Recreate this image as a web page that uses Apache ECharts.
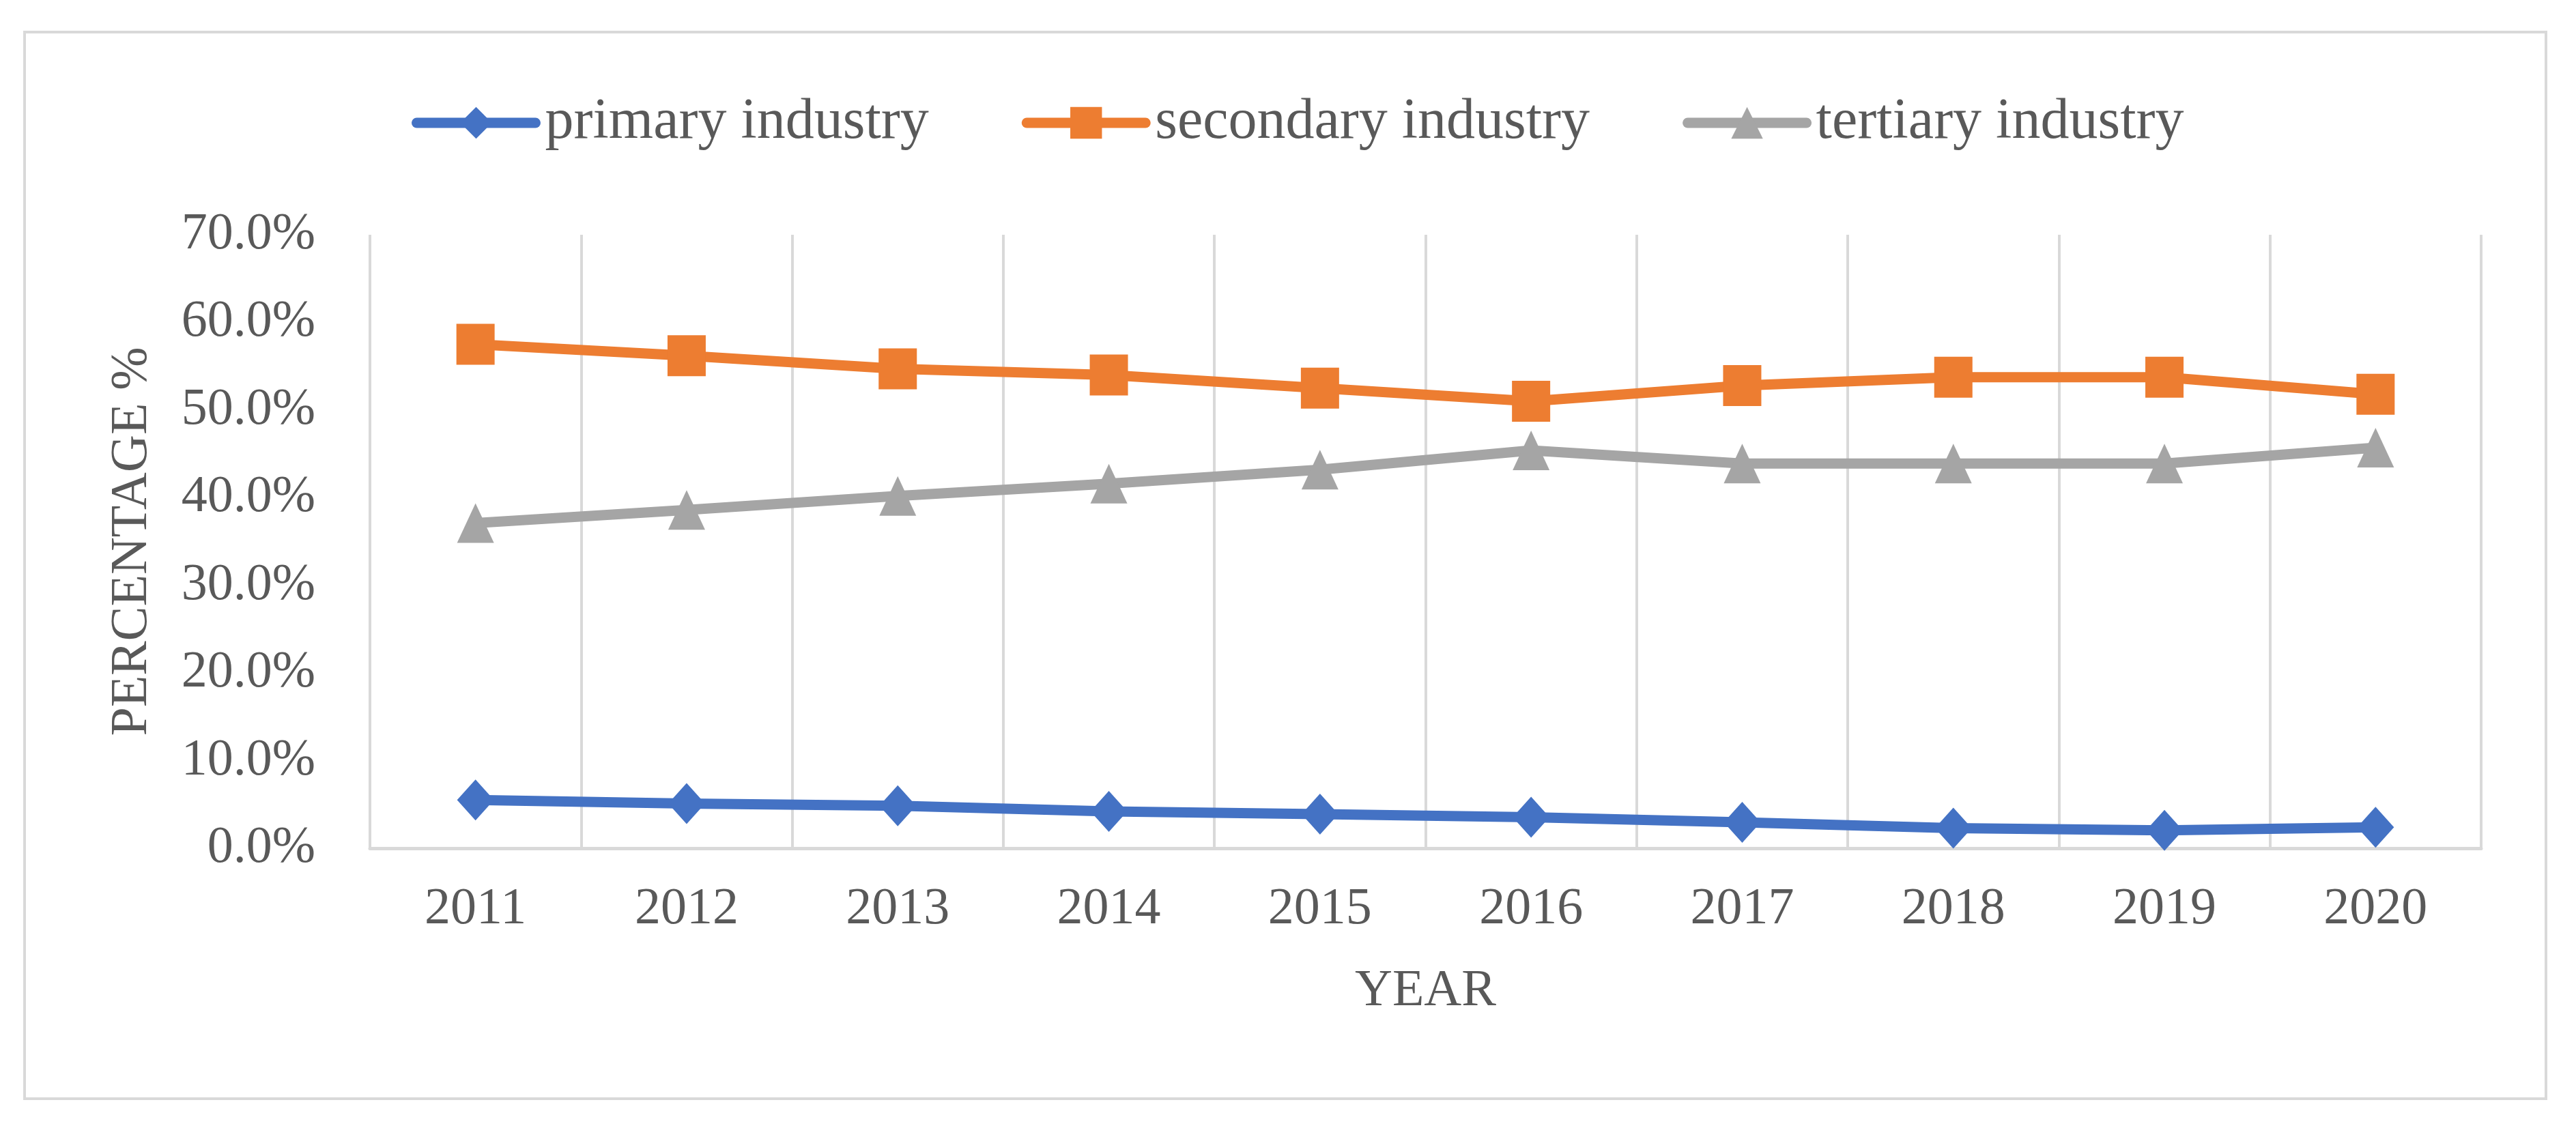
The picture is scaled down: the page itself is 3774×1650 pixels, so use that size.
<!DOCTYPE html>
<html>
<head>
<meta charset="utf-8">
<script src="https://cdn.jsdelivr.net/npm/echarts@6/dist/echarts.min.js"></script>
<style>
  html, body { margin: 0; padding: 0; background: #ffffff; }
  #chart { width: 3774px; height: 1650px; }
</style>
</head>
<body>
<div id="chart"></div>
<script>
const years = ['2011','2012','2013','2014','2015','2016','2017','2018','2019','2020'];
const primaryIndustry   = [5.5, 5.1, 4.85, 4.2, 3.9, 3.55, 2.95, 2.3, 2.05, 2.4];
const secondaryIndustry = [57.5, 56.2, 54.7, 54.0, 52.5, 51.0, 52.8, 53.75, 53.75, 51.8];
const tertiaryIndustry  = [37.1, 38.6, 40.2, 41.6, 43.2, 45.4, 43.9, 43.9, 43.9, 45.7];
const seriesNames = ['primary industry', 'secondary industry', 'tertiary industry'];
const yTicks = { min: 0, max: 70, interval: 10 };

const FONT = 'Liberation Serif';
const TEXT = '#595959';
const chart = echarts.init(document.getElementById('chart'), null, { renderer: 'canvas' });

function lineSeries(name, data, color, symbol, size) {
  return {
    name: name,
    type: 'line',
    data: data,
    symbol: symbol,
    symbolSize: size,
    lineStyle: { color: color, width: 15, cap: 'round', join: 'round' },
    itemStyle: { color: color },
    emphasis: { disabled: true },
    animation: false
  };
}

chart.setOption({
  backgroundColor: '#ffffff',
  animation: false,
  graphic: [{
    type: 'rect',
    shape: { x: 36, y: 47, width: 3694, height: 1563 },
    style: { fill: 'none', stroke: '#D9D9D9', lineWidth: 4 },
    silent: true
  }],
  legend: {
    left: 598,
    top: 133,
    itemWidth: 174,
    itemHeight: 58,
    itemGap: 136,
    lineStyle: { width: 15, cap: 'round' },
    textStyle: { fontFamily: FONT, fontSize: 84, color: TEXT, padding: [0, 0, 0, 9] },
    data: seriesNames
  },
  grid: { left: 542, right: 139, top: 344, bottom: 407, containLabel: false },
  xAxis: {
    type: 'category',
    data: years,
    boundaryGap: true,
    name: 'YEAR',
    nameLocation: 'middle',
    nameGap: 172,
    nameTextStyle: { fontFamily: FONT, fontSize: 76, color: TEXT },
    axisLine: { show: true, lineStyle: { color: '#D9D9D9', width: 5 } },
    axisTick: { show: false },
    axisLabel: { fontFamily: FONT, fontSize: 76, color: TEXT, margin: 52 },
    splitLine: { show: true, showMinLine: true, showMaxLine: true, lineStyle: { color: '#D9D9D9', width: 4 } }
  },
  yAxis: {
    type: 'value',
    min: yTicks.min,
    max: yTicks.max,
    interval: yTicks.interval,
    name: 'PERCENTAGE %',
    nameLocation: 'middle',
    nameGap: 310,
    nameTextStyle: { fontFamily: FONT, fontSize: 76, color: TEXT },
    axisLine: { show: false },
    axisTick: { show: false },
    splitLine: { show: false },
    axisLabel: {
      fontFamily: FONT, fontSize: 76, color: TEXT, margin: 80,
      formatter: function (v) { return v.toFixed(1) + '%'; }
    }
  },
  series: [
    lineSeries(seriesNames[0], primaryIndustry, '#4472C4', 'diamond', [54, 60]),
    lineSeries(seriesNames[1], secondaryIndustry, '#ED7D31', 'rect', [56, 60]),
    lineSeries(seriesNames[2], tertiaryIndustry, '#A5A5A5', 'triangle', [54, 58])
  ]
});
</script>
</body>
</html>
